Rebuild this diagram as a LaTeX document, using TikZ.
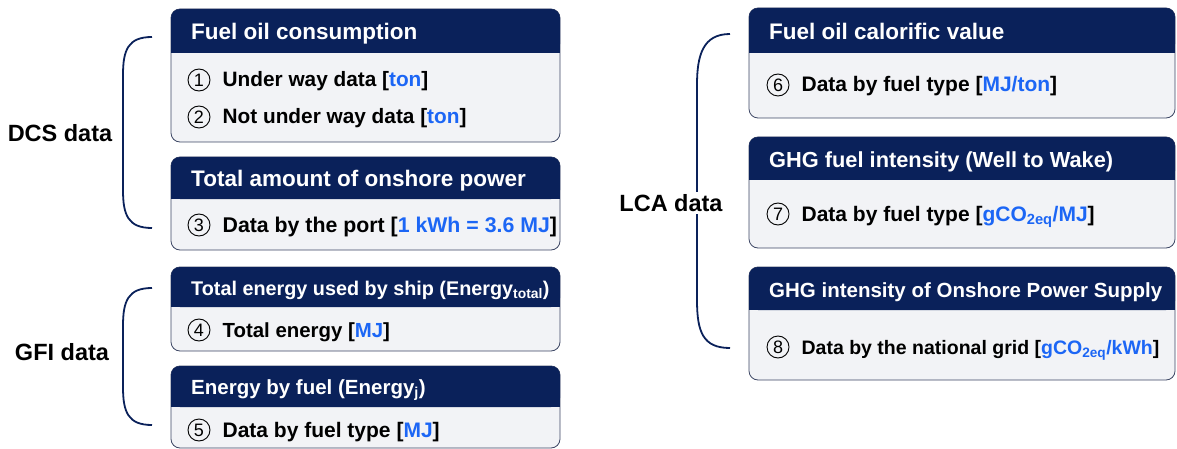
\documentclass[tikz,border=0pt]{standalone}
\usepackage{fontspec}
\setmainfont{Liberation Sans}
\usetikzlibrary{positioning}
\definecolor{headnavy}{RGB}{10,33,90}
\definecolor{bodygray}{RGB}{242,243,246}
\definecolor{edgegray}{RGB}{60,70,100}
\definecolor{unitblue}{RGB}{28,102,245}

\begin{document}
\begin{tikzpicture}[x=1pt, y=-1pt,
    head/.style={anchor=west, text=white, inner sep=0pt, text height=19.7pt, text depth=5pt,
        font=\fontsize{22.5}{26}\selectfont\bfseries},
    item/.style={anchor=west, inner sep=0pt, text height=19pt, text depth=5pt,
        font=\fontsize{21}{24}\selectfont\bfseries},
    num/.style={circle, draw=black, line width=0.9pt, minimum size=22pt, inner sep=0pt,
        font=\fontsize{18}{18}\selectfont},
    group/.style={fill=white, inner sep=2pt, font=\fontsize{23.5}{28}\selectfont\bfseries},
    bracket/.style={draw=headnavy, line width=1.8pt}]
    \useasboundingbox (0,0) rectangle (1177,449);
    \clip (0,0) rectangle (1177,449);

    % Boxes: body, then header on top
    \foreach \xa/\ya/\xb/\yb/\yh in {171/9/560/142/53, 171/157/560/250/199, 171/267/560/351/307,
        171/366/560/448/407, 749/8/1175/118/53, 749/137/1175/248/180, 749/267/1175/380/310} {
        \draw[edgegray, line width=0.8pt, fill=bodygray, rounded corners=9pt] (\xa,\ya) rectangle (\xb,\yb);
        \fill[headnavy, rounded corners=9pt] (\xa,\ya) rectangle (\xb,\yh);
        \fill[headnavy] (\xa,\yh-12) rectangle (\xb,\yh);
    }

    % DCS data
    \node[head] (h1) at (191,32) {Fuel oil consumption};
    \node[num] (n1) at (199,80) {1};
    \node[item, right=12pt of n1, font=\fontsize{20.8}{24}\selectfont\bfseries] (t1) {Under way data [\textcolor{unitblue}{ton}]};
    \node[num] (n2) at (199,117) {2};
    \node[item, right=12pt of n2, font=\fontsize{20.8}{24}\selectfont\bfseries] (t2) {Not under way data [\textcolor{unitblue}{ton}]};
    \node[head] (h2) at (191,179) {Total amount of onshore power};
    \node[num] (n3) at (199,225) {3};
    \node[item, right=12pt of n3, font=\fontsize{21.3}{24}\selectfont\bfseries] (t3) {Data by the port [\textcolor{unitblue}{1 kWh = 3.6 MJ}]};

    % GFI data
    \node[head, font=\fontsize{19.8}{24}\selectfont\bfseries] (h3) at (191,288) {Total energy used by ship (Energy\textsubscript{total})};
    \node[num] (n4) at (199,330) {4};
    \node[item, right=12pt of n4, font=\fontsize{20.4}{24}\selectfont\bfseries] (t4) {Total energy [\textcolor{unitblue}{MJ}]};
    \node[head, font=\fontsize{20.5}{24}\selectfont\bfseries] (h4) at (191,387) {Energy by fuel (Energy\textsubscript{j})};
    \node[num] (n5) at (199,430) {5};
    \node[item, right=12pt of n5] (t5) {Data by fuel type [\textcolor{unitblue}{MJ}]};

    % LCA data
    \node[head] (h6) at (769,32) {Fuel oil calorific value};
    \node[num] (n6) at (778,85) {6};
    \node[item, right=12pt of n6] (t6) {Data by fuel type [\textcolor{unitblue}{MJ/ton}]};
    \node[head, font=\fontsize{21.8}{26}\selectfont\bfseries] (h7) at (769,160) {GHG fuel intensity (Well to Wake)};
    \node[num] (n7) at (778,214) {7};
    \node[item, right=12pt of n7] (t7) {Data by fuel type [\textcolor{unitblue}{gCO\textsubscript{2eq}/MJ}]};
    \node[head, font=\fontsize{20.5}{24}\selectfont\bfseries] (h8) at (769,290) {GHG intensity of Onshore Power Supply};
    \node[num] (n8) at (778,347) {8};
    \node[item, right=12pt of n8, font=\fontsize{19.5}{23}\selectfont\bfseries] (t8) {Data by the national grid [\textcolor{unitblue}{gCO\textsubscript{2eq}/kWh}]};

    % Brackets
    \draw[bracket] (152,37) .. controls (128,37) and (123,50) .. (123,75) -- (123,190)
        .. controls (123,215) and (128,228) .. (152,228);
    \draw[bracket] (152,288) .. controls (128,288) and (123,301) .. (123,326) -- (123,387)
        .. controls (123,412) and (128,425) .. (152,425);
    \draw[bracket] (730,34) .. controls (703,34) and (697,55) .. (697,85) -- (697,300)
        .. controls (697,332) and (703,348) .. (730,348);

    % Group labels
    \node[group] (dcs) at (60,133) {DCS data};
    \node[group] (gfi) at (62,352) {GFI data};
    \node[group] (lca) at (671,203) {LCA data};
\end{tikzpicture}
\end{document}
